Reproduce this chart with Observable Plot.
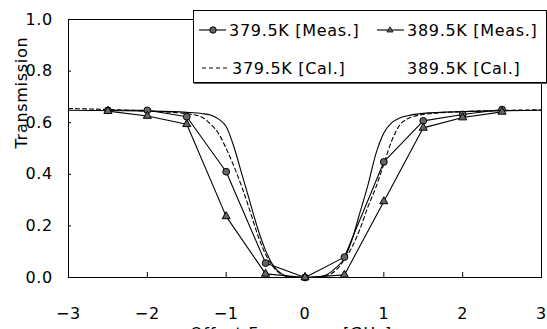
<!DOCTYPE html>
<html>
<head>
<meta charset="utf-8">
<script src="https://cdn.jsdelivr.net/npm/d3@7"></script>
<script src="https://cdn.jsdelivr.net/npm/@observablehq/plot@0.6"></script>
<style>
  html, body { margin: 0; padding: 0; background: #fff; overflow: hidden; }
  #wrap { position: relative; width: 547px; height: 329px; overflow: hidden; }
  #wrap svg text { letter-spacing: 0.7px; }
  #legend { position: absolute; left: 193px; top: 10px; width: 352px; height: 71px;
    border: 1px solid #000; background: #fff; box-shadow: 1px 1px 0 #555;
    font-family: "DejaVu Sans", sans-serif; font-size: 16px; letter-spacing: 0.7px; color: #000; }
  .item { position: absolute; display: flex; align-items: center; height: 20px; white-space: nowrap; }
  .item svg { display: block; margin-right: 3px; }
</style>
</head>
<body>
<div id="wrap"></div>
<script>
// Measured points
const offsetsMeas = [-2.5, -2, -1.5, -1, -0.5, 0, 0.5, 1, 1.5, 2, 2.5];
const meas379 = [0.648, 0.648, 0.623, 0.41, 0.056, 0.0, 0.079, 0.448, 0.607, 0.632, 0.651];
const meas389 = [0.645, 0.626, 0.594, 0.237, 0.014, 0.0, 0.01, 0.295, 0.58, 0.62, 0.642];

// Calculated curves
const offsetsCal = [-3, -2, -1.5, -1.3, -1.2, -1.1, -1.0, -0.9, -0.8, -0.7, -0.6, -0.5, -0.4, -0.3, -0.2, 0,
                    0.2, 0.3, 0.4, 0.5, 0.6, 0.7, 0.8, 0.9, 1.0, 1.1, 1.2, 1.3, 1.5, 2, 3];
const cal379 = [0.655, 0.645, 0.635, 0.62, 0.595, 0.56, 0.5, 0.43, 0.35, 0.26, 0.165, 0.09, 0.04, 0.012, 0.003, 0,
                0.003, 0.01, 0.03, 0.07, 0.12, 0.19, 0.275, 0.35, 0.44, 0.53, 0.59, 0.615, 0.632, 0.643, 0.65];
const cal389 = [0.648, 0.645, 0.64, 0.635, 0.63, 0.615, 0.585, 0.505, 0.40, 0.295, 0.19, 0.105, 0.045, 0.015, 0.004, 0,
                0.004, 0.015, 0.04, 0.075, 0.15, 0.255, 0.36, 0.48, 0.56, 0.6, 0.618, 0.627, 0.636, 0.643, 0.648];

const xTicks = [-3, -2, -1, 0, 1, 2, 3];
const yTicks = [0, 0.2, 0.4, 0.6, 0.8, 1.0];
const xLabel = "Offset Frequency [GHz]";
const yLabel = "Transmission";
const legendLabels = ["379.5K [Meas.]", "389.5K [Meas.]", "379.5K [Cal.]", "389.5K [Cal.]"];

const m379 = offsetsMeas.map((x, i) => ({x, y: meas379[i]}));
const m389 = offsetsMeas.map((x, i) => ({x, y: meas389[i]}));
const c379 = offsetsCal.map((x, i) => ({x, y: cal379[i]}));
const c389 = offsetsCal.map((x, i) => ({x, y: cal389[i]}));

const chart = Plot.plot({
  width: 547,
  height: 345,
  marginLeft: 68,
  marginRight: 6,
  marginTop: 19,
  marginBottom: 68,
  style: {fontFamily: "DejaVu Sans, sans-serif", fontSize: "16px", color: "#000", background: "#fff"},
  x: {domain: [-3, 3], label: null},
  y: {domain: [0, 1], label: null},
  marks: [
    Plot.frame({stroke: "#000", strokeWidth: 1}),
    Plot.axisX({ticks: xTicks, tickSize: -5, tickPadding: 35, label: null,
      tickFormat: d => d < 0 ? "\u2212" + Math.abs(d) : String(d), fontSize: 16}),
    Plot.axisY({ticks: yTicks, tickSize: -3, tickPadding: 18.5, label: null,
      tickFormat: d3.format(".1f"), fontSize: 16}),
    Plot.line(c389, {x: "x", y: "y", curve: "monotone-x", stroke: "#000", strokeWidth: 1.1}),
    Plot.line(c379, {x: "x", y: "y", curve: "monotone-x", stroke: "#000", strokeWidth: 1.1, strokeDasharray: "4,3"}),
    Plot.line(m379, {x: "x", y: "y", stroke: "#000", strokeWidth: 1.1}),
    Plot.line(m389, {x: "x", y: "y", stroke: "#000", strokeWidth: 1.1}),
    Plot.dot(m379, {x: "x", y: "y", r: 3.4, fill: "#666", stroke: "#000", strokeWidth: 1}),
    Plot.dot(m389, {x: "x", y: "y", r: 3, symbol: "triangle", fill: "#666", stroke: "#000", strokeWidth: 1}),
    Plot.text([yLabel], {text: d => d, frameAnchor: "left", rotate: -90, dx: -47, fontSize: 16, fill: "#000"}),
    Plot.text([xLabel], {text: d => d, frameAnchor: "bottom", dy: 56, dx: -14, fontSize: 16, fill: "#000", lineAnchor: "middle"})
  ]
});

const wrap = document.getElementById("wrap");
wrap.appendChild(chart);

// Legend overlay
const legend = document.createElement("div");
legend.id = "legend";
const circleSample = `<svg width="27" height="10"><line x1="0" y1="5" x2="27" y2="5" stroke="#000" stroke-width="1.1"/><circle cx="14" cy="5" r="3.2" fill="#666" stroke="#000"/></svg>`;
const triSample = `<svg width="27" height="10"><line x1="0" y1="5" x2="27" y2="5" stroke="#000" stroke-width="1.1"/><path d="M13,1.8L16,7L10,7Z" fill="#666" stroke="#000" stroke-width="0.8"/></svg>`;
const dashSample = `<svg width="27" height="10"><line x1="0" y1="5" x2="27" y2="5" stroke="#000" stroke-width="1.1" stroke-dasharray="4,3"/></svg>`;
const blankSample = `<svg width="27" height="10"></svg>`;
const items = [
  {left: 5, top: 9, sample: circleSample, label: legendLabels[0]},
  {left: 183, top: 9, sample: triSample, label: legendLabels[1]},
  {left: 8, top: 47, sample: dashSample, label: legendLabels[2]},
  {left: 183, top: 47, sample: blankSample, label: legendLabels[3]}
];
for (const it of items) {
  const d = document.createElement("div");
  d.className = "item";
  d.style.left = it.left + "px";
  d.style.top = it.top + "px";
  d.innerHTML = it.sample + "<span>" + it.label + "</span>";
  legend.appendChild(d);
}
wrap.appendChild(legend);
</script>
</body>
</html>
